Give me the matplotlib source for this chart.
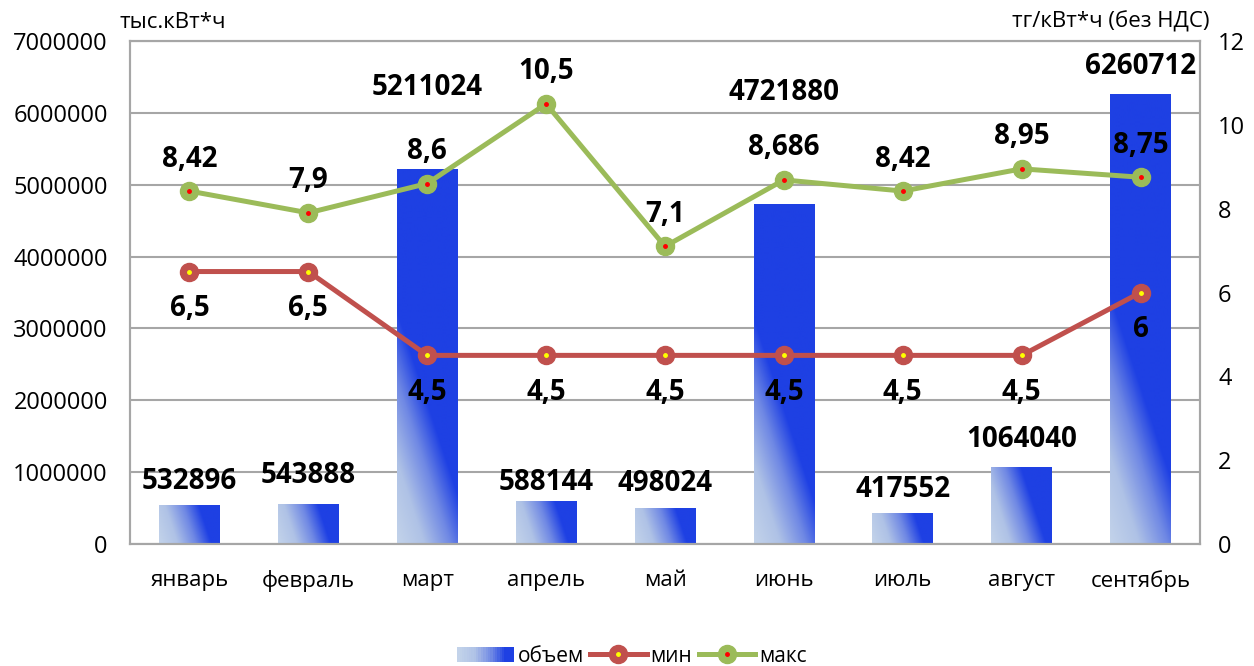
import matplotlib
matplotlib.use('Agg')
import matplotlib.pyplot as plt
import numpy as np
from matplotlib.colors import LinearSegmentedColormap
from matplotlib.patches import Rectangle
from matplotlib.lines import Line2D
from matplotlib.legend_handler import HandlerBase

plt.rcParams['font.family'] = ['Open Sans', 'DejaVu Sans']

months = ['январь', 'февраль', 'март', 'апрель', 'май', 'июнь', 'июль', 'август', 'сентябрь']
volume = [532896, 543888, 5211024, 588144, 498024, 4721880, 417552, 1064040, 6260712]
price_min = [6.5, 6.5, 4.5, 4.5, 4.5, 4.5, 4.5, 4.5, 6]
price_max = [8.42, 7.9, 8.6, 10.5, 7.1, 8.686, 8.42, 8.95, 8.75]

# сдвиг подписей столбцов (px над вершиной)
bar_label_shift = [24, 29, 82, 19, 25, 112, 24, 28, 28]

LIGHT = '#C3D3EA'
DARK = '#1E40E3'
RED = '#C0504D'
GREEN = '#9BBB59'
GRID = '#A6A6A6'
cmap = LinearSegmentedColormap.from_list(
    'bar', [(0.0, LIGHT), (0.35, '#AFC2E6'), (0.7, '#6F88E4'), (1.0, DARK)])


def fmt(v):
    return ('%g' % v).replace('.', ',')


class GradientHandler(HandlerBase):
    def create_artists(self, legend, orig_handle, xdescent, ydescent, width, height, fontsize, trans):
        n = 24
        arts = []
        for i in range(n):
            c = cmap(min(1.0, i / (n - 1) * 1.15))
            r = Rectangle((-xdescent + width * i / n, -ydescent), width / n + 0.3, height,
                          facecolor=c, edgecolor='none', transform=trans)
            arts.append(r)
        return arts


fig = plt.figure(figsize=(12.54, 6.66), dpi=100)
ax = fig.add_axes([130 / 1254, 122 / 666, 1070 / 1254, 503 / 666])
ax2 = ax.twinx()

x = np.arange(len(months))
bw = 0.51
ax.set_xlim(-0.5, len(months) - 0.5)
ax.set_ylim(0, 7000000)
ax2.set_ylim(0, 12)

# градиентные столбцы
fig.canvas.draw()
for xi, v in zip(x, volume):
    p0 = ax.transData.transform((xi - bw / 2, 0))
    p1 = ax.transData.transform((xi + bw / 2, v))
    wpx, hpx = p1[0] - p0[0], p1[1] - p0[1]
    nx, ny = 60, max(2, int(hpx))
    px = np.linspace(0, wpx, nx)[None, :]
    py = np.linspace(0, hpx, ny)[:, None]
    s_max = 3 * wpx + hpx
    L = 110 + 0.22 * s_max
    t = np.clip((3 * px + py) / L, 0, 1)
    ax.imshow(t, cmap=cmap, vmin=0, vmax=1, origin='lower', aspect='auto',
              extent=(xi - bw / 2, xi + bw / 2, 0, v), zorder=2, interpolation='bilinear')
ax.set_xlim(-0.5, len(months) - 0.5)
ax.set_ylim(0, 7000000)

for xi, v, s in zip(x, volume, bar_label_shift):
    ax.annotate(str(v), (xi, v), xytext=(0, s * 0.72), textcoords='offset points',
                ha='center', va='center', fontsize=20, fontweight='bold', zorder=5)

# линии
ax2.plot(x, price_min, color=RED, lw=3.6, marker='o', ms=13, zorder=3)
ax2.plot(x, price_min, ls='none', marker='o', ms=2.5, color='#FFFF00', zorder=4)
ax2.plot(x, price_max, color=GREEN, lw=3.6, marker='o', ms=13, zorder=3)
ax2.plot(x, price_max, ls='none', marker='o', ms=2.5, color='#FF0000', zorder=4)

for xi, v in zip(x, price_max):
    ax2.annotate(fmt(v), (xi, v), xytext=(0, 32 * 0.72), textcoords='offset points',
                 ha='center', va='center', fontsize=20, fontweight='bold')
for xi, v in zip(x, price_min):
    ax2.annotate(fmt(v), (xi, v), xytext=(0, -37 * 0.72), textcoords='offset points',
                 ha='center', va='center', fontsize=20, fontweight='bold')

# оси
ax.set_yticks(np.arange(0, 7000001, 1000000))
ax.set_yticklabels([str(int(v)) for v in np.arange(0, 7000001, 1000000)], fontsize=17)
ax2.set_yticks(np.arange(0, 13, 2))
ax2.set_yticklabels([str(v) for v in range(0, 13, 2)], fontsize=17)
ax.set_xticks(x)
ax.set_xticklabels(months, fontsize=16)
ax.tick_params(axis='y', length=0, pad=16)
ax.tick_params(axis='x', length=0, pad=19)
ax2.tick_params(axis='y', length=0, pad=13)
ax.yaxis.grid(True, color=GRID, lw=1.5)
ax.set_axisbelow(True)
for a in (ax, ax2):
    for sp in a.spines.values():
        sp.set_color(GRID)
        sp.set_linewidth(1.5)

fig.text(120 / 1254, 1 - 22 / 666, 'тыс.кВт*ч', fontsize=16, ha='left', va='center')
fig.text(1210 / 1254, 1 - 22 / 666, 'тг/кВт*ч (без НДС)', fontsize=16, ha='right', va='center')

# легенда
h_bar = Rectangle((0, 0), 1, 1, facecolor=DARK)
h_min = (Line2D([], [], color=RED, lw=3.6, marker='o', ms=13),
         Line2D([], [], ls='none', marker='o', ms=2.5, color='#FFFF00'))
h_max = (Line2D([], [], color=GREEN, lw=3.6, marker='o', ms=13),
         Line2D([], [], ls='none', marker='o', ms=2.5, color='#FF0000'))
fig.legend([h_bar, h_min, h_max], ['объем', 'мин', 'макс'], loc='center',
           bbox_to_anchor=(632 / 1254, 1 - 656 / 666), ncol=3, frameon=False,
           fontsize=15, handlelength=2.7, handletextpad=0.2, columnspacing=0.3,
           handler_map={Rectangle: GradientHandler()})

fig.savefig('out.png', dpi=100)
